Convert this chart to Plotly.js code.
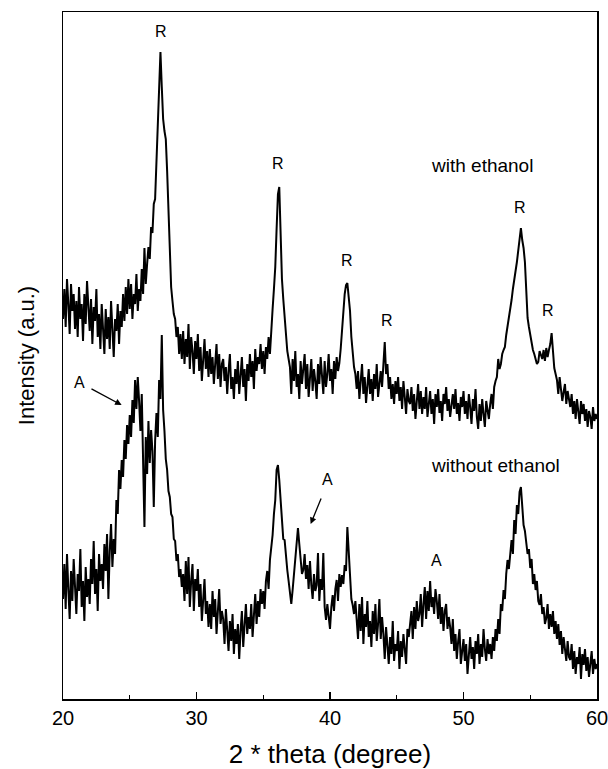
<!DOCTYPE html>
<html>
<head>
<meta charset="utf-8">
<script src="https://cdn.plot.ly/plotly-3.0.1.min.js"></script>
<style>html,body{margin:0;padding:0;background:#fff;}#chart{width:608px;height:769px;}</style>
</head>
<body>
<div id="chart"></div>
<script>
// 2-theta grid: 20.0 .. 60.0 deg, 0.1 deg step
const thetaStart = 20.0;
const thetaStep = 0.1;

// Intensity (a.u.), "with ethanol" sample, one row per degree
const withEthanol = [
380,410,372,420,395,365,415,388,405,370,
398,362,412,380,395,358,405,375,418,385,
368,400,355,392,378,410,362,385,350,395,
372,345,390,360,382,350,398,365,342,380,
368,395,355,388,372,405,378,412,385,420,
390,415,380,405,395,425,388,410,398,430,
405,451,415,435,452,440,472,466,495,500,
539,575,615,647,612,580,568,560,528,490,
440,412,398,385,380,362,372,345,365,340,
368,335,360,342,375,330,362,348,325,358,
340,365,328,352,318,345,360,330,348,322,
350,325,342,315,338,355,320,345,312,335,
340,318,332,305,328,345,310,322,300,330,
315,338,305,325,342,312,330,298,335,318,
345,322,338,310,350,328,342,335,355,330,
348,325,352,340,362,345,372,390,410,432,
470,505,512,458,420,400,382,365,348,340,
332,305,340,318,348,312,325,300,338,315,
328,345,310,335,302,322,340,308,330,318,
300,335,315,342,320,305,338,312,325,345,
318,330,305,338,320,342,328,336,350,372,
395,405,414,416,402,388,362,345,332,325,
310,328,300,318,335,305,322,296,315,330,
305,320,298,325,310,335,302,318,328,312,
330,357,325,335,310,322,300,315,295,318,
305,322,298,312,290,318,302,285,310,298,
295,312,288,305,280,300,315,290,308,285,
302,290,312,282,298,308,285,300,275,305,
292,310,286,298,278,305,295,312,288,300,
282,298,305,290,310,285,296,278,302,292,
308,285,298,280,305,292,275,300,288,310,
282,270,295,278,300,285,272,298,288,280,
295,305,290,312,318,322,340,330,335,345,
349,352,364,372,381,392,399,410,417,428,
437,449,464,471,459,451,437,399,381,372,
364,355,349,345,339,335,337,348,344,340,
349,338,351,342,349,355,366,345,331,325,
319,305,322,310,298,307,315,295,308,300,
292,305,285,298,280,300,290,275,298,285,
295,278,290,272,288,282,270,292,278,285,
280
];

// Intensity (a.u.), "without ethanol" sample
const withoutEthanol = [
100,135,90,145,110,80,128,98,140,105,
85,125,108,150,92,118,78,132,102,120,
95,140,115,158,105,130,88,145,118,135,
110,155,128,165,100,148,175,132,160,145,
199,185,229,210,239,222,259,240,274,255,
284,262,299,276,319,290,322,298,268,305,
250,172,262,225,278,236,269,248,192,258,
286,262,319,300,364,289,268,240,229,208,
202,185,182,160,158,138,145,122,130,112,
125,98,138,105,142,92,118,135,88,120,
108,130,92,115,78,105,120,85,98,72,
95,70,108,82,100,65,92,110,75,88,
80,55,90,62,48,78,58,85,45,70,
55,75,40,68,88,52,72,95,65,82,
70,95,62,88,105,75,98,82,110,95,
108,90,118,128,110,139,150,164,185,199,
229,234,219,199,174,160,159,140,129,118,
109,95,109,125,139,150,171,155,139,125,
129,145,120,134,110,138,114,100,125,108,
114,146,98,120,109,146,92,79,95,84,
70,92,104,88,110,119,98,125,112,124,
115,134,128,172,144,114,100,94,85,98,
80,60,95,68,102,55,85,72,98,62,
78,52,88,65,95,58,75,100,60,82,
65,40,72,50,35,62,45,78,38,55,
48,68,30,58,42,65,50,35,70,62,
75,88,60,92,70,98,78,85,105,72,
95,112,80,108,88,118,92,102,85,110,
98,80,105,75,92,68,88,95,70,82,
72,55,80,48,65,40,58,70,35,52,
60,38,55,25,48,62,40,52,30,58,
45,65,35,55,42,70,50,38,60,45,
55,40,62,48,70,58,80,65,95,88,
109,100,125,139,130,150,159,145,179,165,
194,185,207,212,194,174,168,159,145,150,
131,140,115,125,109,118,98,94,105,85,
92,75,81,95,70,85,72,88,65,78,
60,75,54,68,45,62,50,38,58,42,
39,55,30,48,25,42,35,52,20,45,
34,50,28,42,22,38,48,25,40,30,
35
];

// Peak labels and sample labels
const peakLabels = ["R","R","R","R","R","R","A","A","A"];
const peakTheta  = [27.34, 36.08, 41.30, 44.25, 54.23, 56.35, 21.2, 39.8, 47.99];
const peakLevel  = [668, 536, 439, 379, 492, 389, 317, 220, 139];
const sampleLabels = ["with ethanol", "without ethanol"];
const sampleTheta  = [51.39, 52.43];
const sampleLevel  = [534, 234];
const xTickVals = [20, 30, 40, 50, 60];
const xTickText = ["20", "30", "40", "50", "60"];

const theta = withEthanol.map((_, i) => +(thetaStart + i * thetaStep).toFixed(2));

const FONT = "Liberation Sans, Arial, Helvetica, sans-serif";
const lineStyle = {color: "#000", width: 2};

const traces = [
  {x: theta, y: withEthanol, mode: "lines", line: lineStyle, name: sampleLabels[0], hoverinfo: "x+y"},
  {x: theta, y: withoutEthanol, mode: "lines", line: lineStyle, name: sampleLabels[1], hoverinfo: "x+y"}
];

const annotations = [];
peakLabels.forEach((t, i) => {
  annotations.push({x: peakTheta[i], y: peakLevel[i], xref: "x", yref: "y", text: t,
    showarrow: false, font: {family: FONT, size: 16, color: "#000"}});
});
sampleLabels.forEach((t, i) => {
  annotations.push({x: sampleTheta[i], y: sampleLevel[i], xref: "x", yref: "y", text: t,
    showarrow: false, font: {family: FONT, size: 19, color: "#000"}});
});
// arrows pointing to anatase features
annotations.push({x: 24.39, y: 294, ax: 22.02, ay: 311, xref: "x", yref: "y", axref: "x", ayref: "y",
  text: "", showarrow: true, arrowhead: 2, arrowsize: 1, arrowwidth: 1.3, arrowcolor: "#000"});
annotations.push({x: 38.55, y: 175, ax: 39.38, ay: 202, xref: "x", yref: "y", axref: "x", ayref: "y",
  text: "", showarrow: true, arrowhead: 2, arrowsize: 1, arrowwidth: 1.3, arrowcolor: "#000"});

const layout = {
  width: 608, height: 769,
  margin: {l: 63, r: 11, t: 12, b: 70, pad: 0},
  paper_bgcolor: "#fff", plot_bgcolor: "#fff",
  showlegend: false,
  font: {family: FONT, color: "#000"},
  xaxis: {
    range: [20, 60], tickmode: "array", tickvals: xTickVals, ticktext: xTickText,
    ticks: "inside", ticklen: 7, tickwidth: 1.3, tickcolor: "#000",
    ticklabeloverflow: "allow",
    minor: {ticks: "inside", dtick: 5, tick0: 20, ticklen: 4, tickwidth: 1.2, tickcolor: "#000", showgrid: false},
    showline: true, linewidth: 1.5, linecolor: "#000", mirror: true,
    showgrid: false, zeroline: false,
    tickfont: {family: FONT, size: 20, color: "#000"},
    title: {text: "2 * theta (degree)", font: {family: FONT, size: 26, color: "#000"}, standoff: 18}
  },
  yaxis: {
    range: [0, 687], showticklabels: false, ticks: "",
    showline: true, linewidth: 1.5, linecolor: "#000", mirror: true,
    showgrid: false, zeroline: false,
    title: {text: "Intensity (a.u.)", font: {family: FONT, size: 22, color: "#000"}, standoff: 21}
  },
  annotations: annotations
};

Plotly.newPlot("chart", traces, layout, {displayModeBar: false, staticPlot: true});
</script>
</body>
</html>
